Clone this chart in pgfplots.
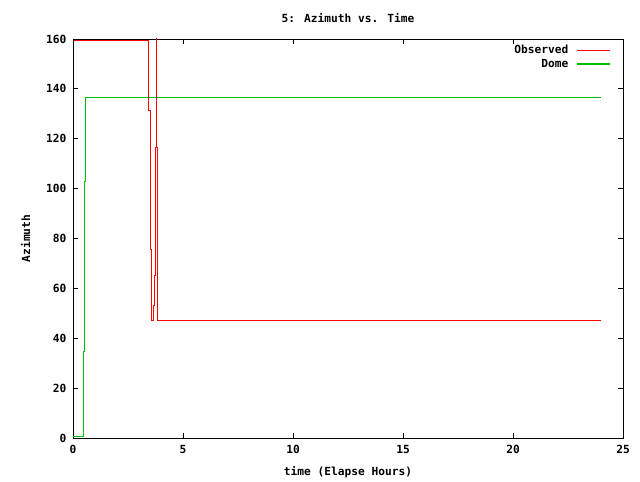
\documentclass[border=0pt]{standalone}
\usepackage{pgfplots}
\pgfplotsset{compat=1.18}
\usepackage{fontspec}
\setmainfont{DejaVu Sans Mono}
\definecolor{gpgreen}{RGB}{0,192,0}
\begin{document}
\begin{tikzpicture}[font=\bfseries\fontsize{11.2}{13}\selectfont]
\begin{axis}[
  scale only axis,
  width=550pt, height=399pt,
  xmin=0, xmax=25, ymin=0, ymax=160,
  xtick={0,5,10,15,20,25},
  ytick={0,20,40,60,80,100,120,140,160},
  tick align=inside,
  major tick length=5pt,
  tick style={black, line width=0.8pt},
  axis line style={line width=0.8pt},
  /pgf/number format/assume math mode=true,
  tick label style={font=\bfseries\fontsize{11.2}{13}\selectfont},
  xticklabel style={yshift=-4pt},
  yticklabel style={xshift=-3pt},
  title={5: Azimuth vs. Time},
  title style={yshift=7pt},
  xlabel={time (Elapse Hours)},
  ylabel={Azimuth},
  xlabel style={yshift=-6pt},
  ylabel style={yshift=9pt},
  legend style={draw=none, fill=none, at={(0.983,0.995)}, anchor=north east,
    font=\bfseries\fontsize{11.2}{13}\selectfont, row sep=0pt, column sep=6pt},
  legend cell align=right,
  legend plot pos=right,
  legend image code/.code={\draw[#1, line width=1.2pt] (0pt,0pt) -- (33pt,0pt);},
]
\addlegendimage{red}
\addlegendentry{Observed}
\addlegendimage{gpgreen}
\addlegendentry{Dome}
\addplot[gpgreen, line width=1pt, forget plot] coordinates {
(0,0.5) (0.47,0.5) (0.47,34.6) (0.51,34.6) (0.51,102.8) (0.58,102.8) (0.58,136.6) (24.0,136.6)
};
\addplot[red, line width=1pt, forget plot] coordinates {
(0.05,159.3) (3.45,159.3) (3.45,131.5) (3.53,131.5) (3.53,75.4) (3.57,75.4) (3.57,47.3)
(3.64,47.3) (3.64,53.3) (3.69,53.3) (3.69,65.3) (3.73,65.3) (3.73,116.3) (3.78,116.3)
(3.78,163) (3.80,163) (3.80,116.3) (3.83,116.3) (3.83,75.4) (3.86,75.4) (3.86,47.3)
(24.0,47.3)
};
\end{axis}
\path (current axis.south west) ++(-73pt,-42pt) coordinate (bl);
\path (current axis.north east) ++(17pt,39pt) coordinate (tr);
\useasboundingbox (bl) rectangle (tr);
\end{tikzpicture}
\end{document}
